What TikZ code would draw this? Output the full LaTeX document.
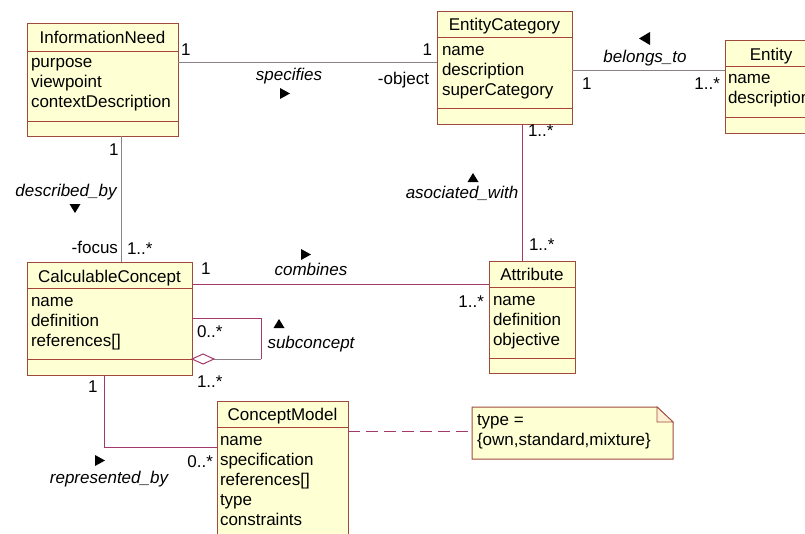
\documentclass[tikz,border=0pt]{standalone}
\usepackage{fontspec}
\setmainfont{Liberation Sans}
\begin{document}
\begin{tikzpicture}[x=1pt,y=-1pt,
  every node/.style={inner sep=0pt, outer sep=0pt, font=\fontsize{17}{20}\selectfont},
  cls/.style={draw=boxc, fill=boxf, line width=1pt, rectangle, anchor=north west},
  sep/.style={draw=sepc, line width=1pt},
  ttl/.style={anchor=base},
  att/.style={anchor=base west},
  lbl/.style={anchor=base, font=\fontsize{17}{20}\selectfont\itshape},
  mul/.style={anchor=base west},
  gline/.style={draw=lineg, line width=1pt},
  mline/.style={draw=linem, line width=1pt},
  tri/.style={fill=black}]
\definecolor{boxc}{HTML}{9E4B3E}
\definecolor{sepc}{HTML}{A8443A}
\definecolor{boxf}{HTML}{FFFFD4}
\definecolor{lineg}{HTML}{8A8088}
\definecolor{linem}{HTML}{A3386A}
\useasboundingbox (0,0) rectangle (805,533);

% ---------- classes ----------
\node[cls, minimum width=151pt, minimum height=113pt] (in) at (27,23) {};
\draw[sep] (in.west |- 0,51) -- (in.east |- 0,51);
\draw[sep] (in.west |- 0,121) -- (in.east |- 0,121);
\node[ttl] (inT) at (102.5,43) {InformationNeed};
\node[att] (in1) at (31,67) {purpose};
\node[att] (in2) at (31,87) {viewpoint};
\node[att] (in3) at (31,107) {contextDescription};

\node[cls, minimum width=135pt, minimum height=113pt] (ec) at (437,11) {};
\draw[sep] (ec.west |- 0,37) -- (ec.east |- 0,37);
\draw[sep] (ec.west |- 0,108) -- (ec.east |- 0,108);
\node[ttl] (ecT) at (504.5,30) {EntityCategory};
\node[att] (ec1) at (442,55) {name};
\node[att] (ec2) at (442,75) {description};
\node[att] (ec3) at (442,95) {superCategory};

\node[cls, minimum width=100pt, minimum height=93pt] (en) at (725,40) {};
\draw[sep] (en.west |- 0,66) -- (en.east |- 0,66);
\draw[sep] (en.west |- 0,117) -- (en.east |- 0,117);
\node[ttl] (enT) at (771,60) {Entity};
\node[att] (en1) at (728,83) {name};
\node[att] (en2) at (728,103) {description};

\node[cls, minimum width=165pt, minimum height=113pt] (cc) at (27,262) {};
\draw[sep] (cc.west |- 0,288) -- (cc.east |- 0,288);
\draw[sep] (cc.west |- 0,359) -- (cc.east |- 0,359);
\node[ttl] (ccT) at (109.5,282) {CalculableConcept};
\node[att] (cc1) at (31,306) {name};
\node[att] (cc2) at (31,326) {definition};
\node[att] (cc3) at (31,346) {references[]};

\node[cls, minimum width=86pt, minimum height=112pt] (at) at (489,261) {};
\draw[sep] (at.west |- 0,287) -- (at.east |- 0,287);
\draw[sep] (at.west |- 0,358) -- (at.east |- 0,358);
\node[ttl] (atT) at (532,280) {Attribute};
\node[att] (at1) at (493,305) {name};
\node[att] (at2) at (493,325) {definition};
\node[att] (at3) at (493,345) {objective};

\node[cls, minimum width=131pt, minimum height=150pt] (cm) at (217,401) {};
\draw[sep] (cm.west |- 0,427) -- (cm.east |- 0,427);
\node[ttl] (cmT) at (282.5,420) {ConceptModel};
\node[att] (cm1) at (220,445) {name};
\node[att] (cm2) at (220,465) {specification};
\node[att] (cm3) at (220,485) {references[]};
\node[att] (cm4) at (220,505) {type};
\node[att] (cm5) at (220,525) {constraints};

% ---------- note ----------
\node[minimum width=201pt, minimum height=52pt, anchor=north west] (note) at (472,407) {};
\draw[draw=boxc, fill=boxf, line width=1pt]
  (note.north west) -- ([xshift=-16pt]note.north east) -- ([yshift=-15pt]note.north east)
  -- (note.south east) -- (note.south west) -- cycle;
\draw[draw=boxc, fill=boxf!70!orange!40!white, line width=0.8pt]
  ([xshift=-16pt]note.north east) -- ([xshift=-16pt,yshift=-15pt]note.north east) -- ([yshift=-15pt]note.north east) -- cycle;
\node[att] (n1) at (477,425) {type =};
\node[att] (n2) at (477,445) {\{own,standard,mixture\}};

% ---------- connectors ----------
\draw[gline] (in.east |- 0,62) -- (ec.west |- 0,62);
\node[mul] (m1) at (181,55) {1};
\node[mul, anchor=base east] (m2) at (432,55) {1};
\node[mul, anchor=base east] (m3) at (429,84) {-object};
\node[lbl] (l1) at (289,80) {specifies};
\fill[tri] (280,88) -- (290,93.5) -- (280,99) -- cycle;

\draw[gline] (ec.east |- 0,70) -- (en.west |- 0,70);
\node[lbl] (l2) at (645,62) {belongs\_to};
\fill[tri] (650,32) -- (639,38.5) -- (650,45) -- cycle;
\node[mul] (m4) at (582,89) {1};
\node[mul, anchor=base east] (m5) at (720,89) {1..*};

\draw[gline] (in.south -| 121,0) -- (cc.north -| 121,0);
\node[mul] (m6) at (109,155) {1};
\node[lbl] (l3) at (66,196) {described\_by};
\fill[tri] (69.5,204) -- (80.5,204) -- (75,213) -- cycle;
\node[mul, anchor=base east] (m7) at (118,253) {-focus};
\node[mul] (m8) at (127,254) {1..*};

\draw[mline] (cc.east |- 0,284) -- (at.west |- 0,284);
\node[mul] (m9) at (201,274) {1};
\node[lbl] (l4) at (311,275) {combines};
\fill[tri] (301,249) -- (311,254.5) -- (301,260) -- cycle;
\node[mul, anchor=base east] (m10) at (484,307) {1..*};

\draw[mline] (ec.south -| 522,0) -- (at.north -| 522,0);
\node[mul] (m11) at (528,136) {1..*};
\node[mul] (m12) at (529,250) {1..*};
\node[lbl] (l5) at (462,198) {asociated\_with};
\fill[tri] (467.5,182) -- (478.5,182) -- (473,173) -- cycle;

% self association
\coordinate (dr) at ([xshift=22pt]cc.east |- 0,359);
\draw[mline] (cc.east |- 0,318) -- (261,318) -- (261,359);
\draw[gline] (261,359) -- (dr);
\draw[draw=linem, fill=white, line width=1pt] (cc.east |- 0,359) -- ([xshift=11pt]cc.east |- 0,354) -- (dr) -- ([xshift=11pt]cc.east |- 0,364) -- cycle;
\node[mul] (m13) at (197,337) {0..*};
\node[mul] (m14) at (197,387) {1..*};
\node[lbl] (l6) at (311,348) {subconcept};
\fill[tri] (273.5,328) -- (284.5,328) -- (279,319) -- cycle;

\draw[mline] (cc.south -| 104,0) |- (cm.west |- 0,447);
\node[mul] (m15) at (88,392) {1};
\node[mul, anchor=base east] (m16) at (213,467) {0..*};
\node[lbl] (l7) at (109,483) {represented\_by};
\fill[tri] (95,455) -- (105,460.5) -- (95,466) -- cycle;

\draw[draw=linem, line width=1pt, dash pattern=on 12pt off 6pt] (cm.east |- 0,431) -- (note.west |- 0,431);
\end{tikzpicture}
\end{document}
